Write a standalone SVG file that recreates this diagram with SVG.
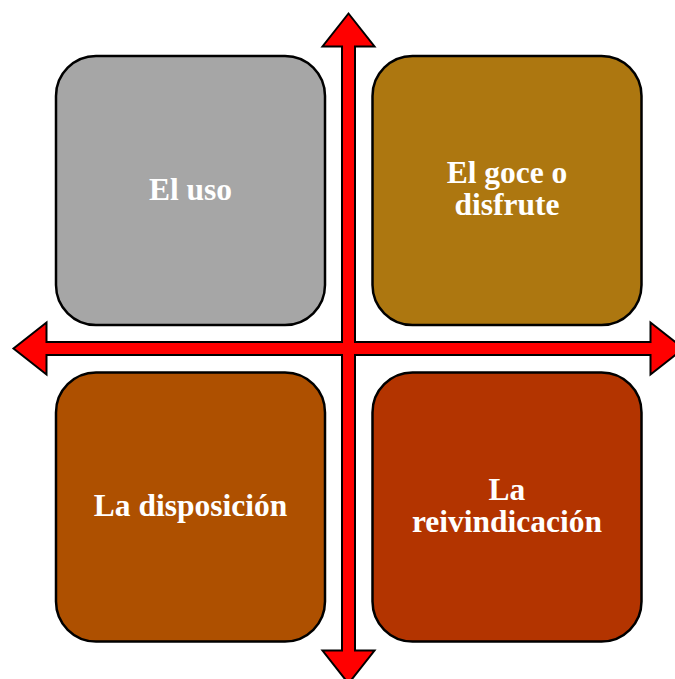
<svg xmlns="http://www.w3.org/2000/svg" width="675" height="679" viewBox="0 0 675 679">
<style>
.box{stroke:#000;stroke-width:2.5}
.lbl{font-family:"Liberation Serif","Times New Roman",serif;font-weight:bold;font-size:31.5px;fill:#fff;text-anchor:middle}
.cross{fill:#ff0000;stroke:#000;stroke-width:2;stroke-linejoin:miter;stroke-miterlimit:10}
</style>
<rect width="675" height="679" fill="#fff"/>
<g id="connectors">
<path class="cross" d="M348.5,13.5 L374.5,46.5 L355,46.5 L355,342 L650.5,342 L650.5,322.5 L683.5,348.5 L650.5,374.5 L650.5,355 L355,355 L355,650.5 L374.5,650.5 L348.5,683.5 L322.5,650.5 L342,650.5 L342,355 L46.5,355 L46.5,374.5 L13.5,348.5 L46.5,322.5 L46.5,342 L342,342 L342,46.5 L322.5,46.5 Z"/>
</g>
<g id="node-uso">
<rect class="box" x="56" y="56" width="269" height="269" rx="40" ry="40" fill="#a6a6a6"/>
<text class="lbl" x="190.5" y="199.5">El uso</text>
</g>
<g id="node-goce">
<rect class="box" x="372.5" y="56" width="269" height="269" rx="40" ry="40" fill="#ad7710"/>
<text class="lbl" x="507" y="183">El goce o</text>
<text class="lbl" x="507" y="215">disfrute</text>
</g>
<g id="node-disposicion">
<rect class="box" x="56" y="372.5" width="269" height="269" rx="40" ry="40" fill="#ae5000"/>
<text class="lbl" x="190.5" y="516">La disposición</text>
</g>
<g id="node-reivindicacion">
<rect class="box" x="372.5" y="372.5" width="269" height="269" rx="40" ry="40" fill="#b33400"/>
<text class="lbl" x="507" y="500">La</text>
<text class="lbl" x="507" y="532">reivindicación</text>
</g>
</svg>
